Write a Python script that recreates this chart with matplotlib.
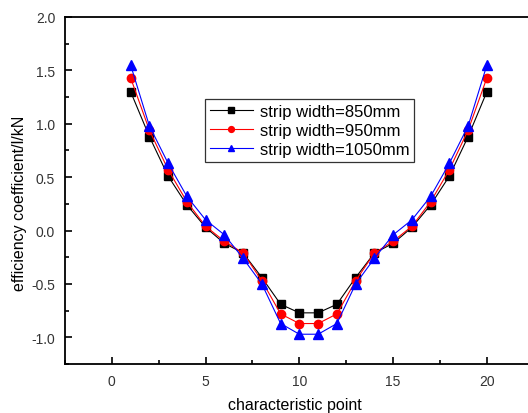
import matplotlib
matplotlib.use('Agg')
import matplotlib.pyplot as plt
from matplotlib.ticker import MultipleLocator

plt.rcParams['font.family'] = ['Liberation Sans', 'DejaVu Sans']

# characteristic points and efficiency coefficients
points = list(range(1, 21))
w850 = [1.30, 0.88, 0.51, 0.24, 0.03, -0.12, -0.21, -0.44, -0.69, -0.77,
        -0.77, -0.69, -0.44, -0.21, -0.12, 0.03, 0.24, 0.51, 0.88, 1.30]
w950 = [1.43, 0.94, 0.57, 0.27, 0.04, -0.10, -0.21, -0.47, -0.78, -0.87,
        -0.87, -0.78, -0.47, -0.21, -0.10, 0.04, 0.27, 0.57, 0.94, 1.43]
w1050 = [1.55, 0.98, 0.63, 0.32, 0.10, -0.04, -0.26, -0.50, -0.87, -0.97,
         -0.97, -0.87, -0.50, -0.26, -0.04, 0.10, 0.32, 0.63, 0.98, 1.55]
labels = ['strip width=850mm', 'strip width=950mm', 'strip width=1050mm']

fig = plt.figure(figsize=(5.28, 4.14), dpi=100)
ax = fig.add_axes([0.123, 0.118, 0.888, 0.839])

ax.plot(points, w850, color='black', marker='s', markersize=6, linewidth=0.8, label=labels[0])
ax.plot(points, w950, color='red', marker='o', markersize=6, linewidth=0.8, label=labels[1])
ax.plot(points, w1050, color='blue', marker='^', markersize=7, linewidth=0.8, label=labels[2])

ax.set_xlim(-2.5, 22.5)
ax.set_ylim(-1.25, 2.0)
ax.xaxis.set_major_locator(MultipleLocator(5))
ax.xaxis.set_minor_locator(MultipleLocator(2.5))
ax.yaxis.set_major_locator(MultipleLocator(0.5))
ax.yaxis.set_minor_locator(MultipleLocator(0.25))
ax.yaxis.set_major_formatter(matplotlib.ticker.FormatStrFormatter('%.1f'))
ax.tick_params(which='both', direction='in', labelsize=10, labelcolor='#333333', width=1.2)
ax.tick_params(which='major', length=5, pad=7)
ax.tick_params(which='minor', length=3)
for s in ax.spines.values():
    s.set_linewidth(1.3)

ax.set_xlabel('characteristic point', fontsize=11.5, va='center')
ax.set_ylabel('efficiency coefficient/l/kN', fontsize=11.5, va='center')
ax.xaxis.set_label_coords(0.49, -0.115)
ax.yaxis.set_label_coords(-0.096, 0.467)

leg = ax.legend(loc='upper left', bbox_to_anchor=(0.298, 0.764), fontsize=12,
                frameon=True, fancybox=False, edgecolor='black', handlelength=2.6,
                markerscale=0.7, borderpad=0.3, labelspacing=0.25, handletextpad=0.4,
                borderaxespad=0)
leg.get_frame().set_linewidth(0.9)

fig.savefig('out.png', dpi=100)
